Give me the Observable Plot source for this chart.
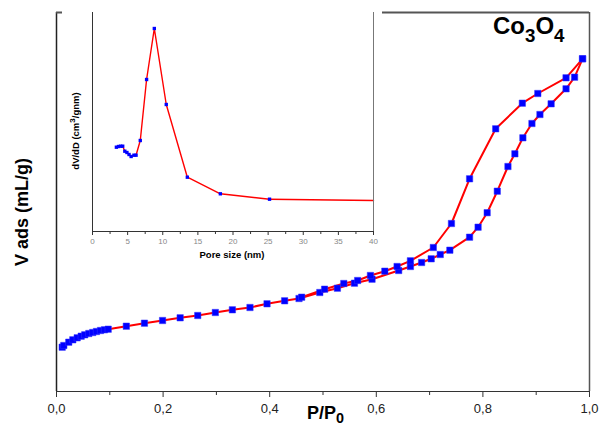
<!DOCTYPE html>
<html><head><meta charset="utf-8">
<script src="https://cdn.jsdelivr.net/npm/d3@7"></script>
<script src="https://cdn.jsdelivr.net/npm/@observablehq/plot@0.6"></script>
<style>
body{margin:0;background:#fff;}
#wrap{position:relative;width:601px;height:428px;font-family:"Liberation Sans",Arial,sans-serif;overflow:hidden;}
#wrap svg{position:absolute;}
.lbl{position:absolute;font-weight:bold;white-space:nowrap;color:#000;line-height:1;}
.lbl sub,.lbl sup{line-height:0;}
</style></head><body><div id="wrap"></div>
<script>
// Adsorption branch (P/P0, V ads arbitrary units)
const adsX = [0.0107,0.0137,0.023,0.0306,0.0388,0.0463,0.053,0.0606,0.068,0.075,0.0826,0.09,0.097,0.131,0.165,0.199,0.232,0.265,0.298,0.330,0.363,0.395,0.428,0.455,0.494,0.527,0.559,0.592,0.642,0.664,0.685,0.703,0.720,0.738,0.775,0.791,0.808,0.827,0.847,0.860,0.875,0.892,0.907,0.928,0.956,0.972,0.987];
const adsY = [44.3,46,49.3,51.7,53.7,55.3,56.7,58,59,60,61,61.7,62.3,65.3,68.3,71,73.7,76,79,81.7,84,87.7,90.7,93,99,103.3,108.3,112.3,121,125,129,132.7,137,141.3,154.3,164.3,178.8,200.3,225,237.7,253.7,268,277,287.7,302.7,314.3,332.7];
// Desorption branch
const desX = [0.987,0.956,0.903,0.874,0.824,0.775,0.741,0.707,0.664,0.639,0.616,0.589,0.565,0.539,0.503,0.460];
const desY = [332.7,313.7,298,288.3,262.7,212.7,168,144,130.7,125,120.3,116,111,108,102.3,94.3];
// Inset: pore size distribution
const poreX = [3.4,3.7,4.0,4.3,4.6,4.9,5.2,5.5,5.9,6.2,6.8,7.7,8.8,10.5,13.5,18.2,25.2];
const poreY = [0.0843,0.085,0.0853,0.0853,0.0803,0.079,0.077,0.075,0.0763,0.0763,0.091,0.152,0.203,0.127,0.0543,0.0377,0.0323];
const poreTailX = [25.2,40];
const poreTailY = [0.0323,0.031];

const mainMajor = [0,0.2,0.4,0.6,0.8,1.0];
const mainLabels = ["0,0","0,2","0,4","0,6","0,8","1,0"];
const mainMinor = [0.1,0.3,0.5,0.7,0.9];
const insetMajor = [0,5,10,15,20,25,30,35,40];
const insetMinor = [2.5,7.5,12.5,17.5,22.5,27.5,32.5,37.5];

const ads = adsX.map((x,i)=>({x,y:adsY[i]}));
const des = desX.map((x,i)=>({x,y:desY[i]}));
const pore = poreX.map((x,i)=>({x,y:poreY[i]}));
const tail = poreTailX.map((x,i)=>({x,y:poreTailY[i]}));

const wrap = document.getElementById("wrap");

const main = Plot.plot({
  width:601, height:428,
  marginLeft:56, marginRight:12, marginTop:12, marginBottom:37,
  style:{fontFamily:"Liberation Sans, Arial, sans-serif", fontSize:"13px", color:"#222", background:"transparent"},
  x:{domain:[0,1], label:null},
  y:{domain:[0,379], axis:null},
  marks:[
    Plot.axisX({ticks:mainMinor, tickSize:4, tickFormat:()=>"", label:null, stroke:"#333"}),
    Plot.axisX({ticks:mainMajor, tickSize:6, tickPadding:6, tickFormat:(d,i)=>mainLabels[i], label:null, stroke:"#333"}),
    Plot.line(ads,{x:"x",y:"y",stroke:"#ff0000",strokeWidth:2}),
    Plot.line(des,{x:"x",y:"y",stroke:"#ff0000",strokeWidth:2}),
    Plot.dot(ads,{x:"x",y:"y",symbol:"square",fill:"#0000ff",stroke:"#3333ff",strokeWidth:0.5,r:3.6}),
    Plot.dot(des,{x:"x",y:"y",symbol:"square",fill:"#0000ff",stroke:"#3333ff",strokeWidth:0.5,r:3.6}),
    Plot.ruleX([0],{stroke:"#222",strokeWidth:1.5}),
    Plot.ruleX([1],{stroke:"#555",strokeWidth:1.5}),
    Plot.ruleY([0],{stroke:"#333",strokeWidth:1.2}),
    Plot.ruleY([379],{stroke:"#555",strokeWidth:2})
  ]
});
main.style.left="0px"; main.style.top="0px";
wrap.appendChild(main);

const inset = Plot.plot({
  width:320, height:262,
  marginLeft:30, marginRight:9, marginTop:12, marginBottom:31,
  style:{fontFamily:"Liberation Sans, Arial, sans-serif", fontSize:"8px", color:"#888", background:"white"},
  x:{domain:[0,40], label:null},
  y:{domain:[0,0.219], axis:null},
  marks:[
    Plot.axisX({ticks:insetMinor, tickSize:3, tickFormat:()=>"", label:null, stroke:"#333"}),
    Plot.axisX({ticks:insetMajor, tickSize:4, tickPadding:3, label:null, stroke:"#333"}),
    Plot.line(pore,{x:"x",y:"y",stroke:"#ff0000",strokeWidth:1.4}),
    Plot.line(tail,{x:"x",y:"y",stroke:"#ff0000",strokeWidth:1.4}),
    Plot.dot(pore,{x:"x",y:"y",symbol:"square",fill:"#0000ff",r:1.9}),
    Plot.ruleX([0],{stroke:"#333",strokeWidth:1}),
    Plot.ruleX([40],{stroke:"#777",strokeWidth:1}),
    Plot.ruleY([0],{stroke:"#333",strokeWidth:1})
  ]
});
inset.style.left="62px"; inset.style.top="0px";
wrap.appendChild(inset);

function label(html, css){
  const d=document.createElement("div");
  d.className="lbl"; d.innerHTML=html;
  Object.assign(d.style, css);
  wrap.appendChild(d);
  return d;
}
// Main labels
label('P/P<sub style="font-size:0.8em;vertical-align:-0.3em">0</sub>',{left:"307px",top:"404px",fontSize:"18px"});
label('V ads (mL/g)',{left:"22px",top:"212px",fontSize:"18px",transform:"translate(-50%,-50%) rotate(-90deg)"});
label('Co<sub style="font-size:0.78em;vertical-align:-0.45em">3</sub>O<sub style="font-size:0.78em;vertical-align:-0.45em">4</sub>',{left:"493px",top:"14px",fontSize:"24px"});
// Inset labels
label('Pore size (nm)',{left:"232px",top:"255px",fontSize:"9.5px",transform:"translate(-50%,-50%)"});
label('dV/dD (cm<sup style="font-size:0.85em;vertical-align:0.5em">3</sup>/gnm)',{left:"76px",top:"131px",fontSize:"9.5px",transform:"translate(-50%,-50%) rotate(-90deg)"});
</script></body></html>
